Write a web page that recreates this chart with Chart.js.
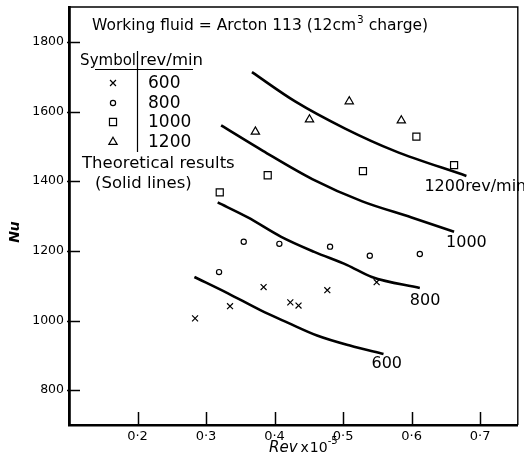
<!DOCTYPE html>
<html>
<head>
<meta charset="utf-8">
<script src="https://cdn.jsdelivr.net/npm/chart.js@4.4.1/dist/chart.umd.min.js"></script>
<style>
  html, body { margin: 0; padding: 0; background: #fff; }
  #wrap { width: 524px; height: 462px; }
</style>
</head>
<body>
<div id="wrap"><canvas id="nuChart" width="524" height="462"></canvas></div>
<script>
// tick values / labels
const xTicks = [0.2, 0.3, 0.4, 0.5, 0.6, 0.7];
const xTickLabels = ['0·2', '0·3', '0·4', '0·5', '0·6', '0·7'];
const yTicks = [800, 1000, 1200, 1400, 1600, 1800];
const yTickLabels = ['800', '1000', '1200', '1400', '1600', '1800'];

// measured points (Rev x 10^-5, Nu)
const rpm600X = [0.284, 0.335, 0.384, 0.423, 0.435, 0.477, 0.549];
const rpm600Y = [1006, 1041, 1096, 1052, 1043, 1087, 1110];
const rpm800X = [0.319, 0.355, 0.407, 0.481, 0.539, 0.612];
const rpm800Y = [1139, 1226, 1220, 1212, 1186, 1191];
const rpm1000X = [0.320, 0.390, 0.529, 0.607, 0.662];
const rpm1000Y = [1368, 1417, 1429, 1528, 1446];
const rpm1200X = [0.372, 0.451, 0.509, 0.585];
const rpm1200Y = [1542, 1577, 1629, 1574];

// theoretical results (solid lines)
const th600X = [0.283, 0.332, 0.380, 0.419, 0.462, 0.510, 0.559];
const th600Y = [1125, 1078, 1029, 994, 957, 928, 904];
const th800X = [0.317, 0.361, 0.409, 0.458, 0.506, 0.542, 0.612];
const th800Y = [1339, 1296, 1241, 1197, 1159, 1125, 1093];
const th1000X = [0.322, 0.383, 0.455, 0.528, 0.600, 0.662];
const th1000Y = [1560, 1487, 1406, 1342, 1296, 1255];
const th1200X = [0.367, 0.430, 0.503, 0.575, 0.680];
const th1200Y = [1713, 1629, 1551, 1487, 1415];

const speeds = ['600', '800', '1000', '1200'];
const lineLabels = ['600', '800', '1000', '1200rev/min'];

const FONT = '"DejaVu Sans", sans-serif';

function pts(xs, ys) {
  return xs.map((x, i) => ({ x: x, y: ys[i] }));
}

const markers = [
  { style: 'crossRot', radius: 4.2 },
  { style: 'circle', radius: 2.6 },
  { style: 'rect', radius: 5 },
  { style: 'triangle', radius: 4.8 }
];

const measured = [[rpm600X, rpm600Y], [rpm800X, rpm800Y], [rpm1000X, rpm1000Y], [rpm1200X, rpm1200Y]];
const theory = [[th600X, th600Y], [th800X, th800Y], [th1000X, th1000Y], [th1200X, th1200Y]];

const datasets = [];
theory.forEach((t, i) => {
  datasets.push({
    label: 'theory ' + speeds[i],
    data: pts(t[0], t[1]),
    showLine: true,
    borderColor: '#000',
    borderWidth: 2.6,
    pointRadius: 0,
    cubicInterpolationMode: 'monotone',
    fill: false
  });
});
measured.forEach((m, i) => {
  datasets.push({
    label: speeds[i],
    data: pts(m[0], m[1]),
    pointStyle: markers[i].style,
    pointRadius: markers[i].radius,
    pointBorderColor: '#000',
    pointBackgroundColor: 'rgba(0,0,0,0)',
    pointBorderWidth: 1.2,
    showLine: false
  });
});

function drawMarker(ctx, m, x, y) {
  if (Chart.helpers && Chart.helpers.drawPoint) {
    ctx.save();
    ctx.strokeStyle = '#000';
    ctx.fillStyle = 'rgba(0,0,0,0)';
    ctx.lineWidth = 1.2;
    Chart.helpers.drawPoint(ctx, { pointStyle: m.style, radius: m.radius, rotation: 0, borderWidth: 1.2 }, x, y);
    ctx.restore();
  }
}

const decorations = {
  id: 'decorations',
  afterDraw(chart) {
    const ctx = chart.ctx;
    const a = chart.chartArea;
    const xs = chart.scales.x, ys = chart.scales.y;
    ctx.save();
    ctx.strokeStyle = '#000';
    ctx.fillStyle = '#000';

    // top and right frame
    ctx.lineWidth = 1.4;
    ctx.beginPath();
    ctx.moveTo(a.left, a.top);
    ctx.lineTo(a.right, a.top);
    ctx.lineTo(a.right, a.bottom);
    ctx.stroke();

    // inward ticks
    ctx.lineWidth = 1.5;
    xTicks.forEach(v => {
      const px = Math.round(xs.getPixelForValue(v)) + 0.5;
      ctx.beginPath();
      ctx.moveTo(px, a.bottom);
      ctx.lineTo(px, a.bottom - 13);
      ctx.stroke();
    });
    yTicks.forEach(v => {
      const py = Math.round(ys.getPixelForValue(v)) + 0.5;
      ctx.beginPath();
      ctx.moveTo(a.left - 2, py);
      ctx.lineTo(a.left + 11, py);
      ctx.stroke();
    });

    // heading
    ctx.textBaseline = 'alphabetic';
    ctx.textAlign = 'left';
    ctx.font = '15.5px ' + FONT;
    let tx = 92;
    const head1 = 'Working fluid = Arcton 113 (12cm';
    ctx.fillText(head1, tx, 30);
    tx += ctx.measureText(head1).width;
    ctx.font = '10.5px ' + FONT;
    ctx.fillText('3', tx + 1, 23);
    tx += ctx.measureText('3').width + 1;
    ctx.font = '15.5px ' + FONT;
    ctx.fillText(' charge)', tx, 30);

    // legend table
    ctx.font = '15px ' + FONT;
    ctx.textAlign = 'right';
    ctx.fillText('Symbol', 136, 65);
    ctx.textAlign = 'left';
    ctx.font = '16.5px ' + FONT;
    ctx.fillText('rev/min', 140, 65);
    ctx.lineWidth = 1.2;
    ctx.beginPath();
    ctx.moveTo(95, 69.5);
    ctx.lineTo(193, 69.5);
    ctx.moveTo(137.5, 51);
    ctx.lineTo(137.5, 152);
    ctx.stroke();
    const rowY = [83, 103, 122, 142];
    ctx.font = '17px ' + FONT;
    ctx.textBaseline = 'middle';
    speeds.forEach((s, i) => {
      drawMarker(ctx, markers[i], 113, rowY[i]);
      ctx.fillStyle = '#000';
      ctx.fillText(s, 148, rowY[i] + 1);
    });
    ctx.font = '16.5px ' + FONT;
    ctx.fillText('Theoretical results', 82, 164);
    ctx.fillText('(Solid lines)', 95, 184);

    // curve labels, placed off the end of each theory line
    const offs = [[-12, 10], [-10, 13], [-8, 11], [-42, 11]];
    ctx.font = '16px ' + FONT;
    theory.forEach((t, i) => {
      const n = t[0].length - 1;
      const ex = xs.getPixelForValue(t[0][n]);
      const ey = ys.getPixelForValue(t[1][n]);
      ctx.fillText(lineLabels[i], ex + offs[i][0], ey + offs[i][1]);
    });

    // axis titles
    ctx.textBaseline = 'alphabetic';
    ctx.font = 'italic 15px ' + FONT;
    let ax = 269;
    ctx.fillText('Rev', ax, 452);
    ax += ctx.measureText('Rev').width + 3;
    ctx.font = '14px ' + FONT;
    ctx.fillText('x', ax, 452);
    ax += ctx.measureText('x').width + 1;
    ctx.fillText('10', ax, 452);
    ax += ctx.measureText('10').width;
    ctx.font = '10px ' + FONT;
    ctx.fillText('-5', ax, 444);

    ctx.translate(19, 232);
    ctx.rotate(-Math.PI / 2);
    ctx.textAlign = 'center';
    ctx.font = 'italic bold 14px ' + FONT;
    ctx.fillText('Nu', 0, 0);
    ctx.restore();
  }
};

new Chart(document.getElementById('nuChart').getContext('2d'), {
  type: 'scatter',
  data: { datasets: datasets },
  options: {
    responsive: false,
    animation: false,
    layout: { padding: { left: 0, top: 7, right: 3, bottom: 0 } },
    plugins: {
      legend: { display: false },
      tooltip: { enabled: false }
    },
    scales: {
      x: {
        type: 'linear',
        min: 0.1,
        max: 0.755,
        afterBuildTicks: s => { s.ticks = xTicks.map(v => ({ value: v })); },
        afterFit: s => { s.height = 37; },
        grid: { display: false },
        border: { display: true, color: '#000', width: 2.6 },
        ticks: {
          padding: -4,
          color: '#000',
          font: { family: FONT, size: 13 },
          callback: (v) => xTickLabels[xTicks.indexOf(+v.toFixed(2))] || ''
        }
      },
      y: {
        type: 'linear',
        min: 700,
        max: 1900,
        afterBuildTicks: s => { s.ticks = yTicks.map(v => ({ value: v })); },
        afterFit: s => { s.width = 69; },
        grid: { display: false },
        border: { display: true, color: '#000', width: 2.8 },
        ticks: {
          padding: -3,
          color: '#000',
          font: { family: FONT, size: 12.5 },
          callback: (v) => yTickLabels[yTicks.indexOf(v)] || ''
        }
      }
    }
  },
  plugins: [decorations]
});
</script>
</body>
</html>
